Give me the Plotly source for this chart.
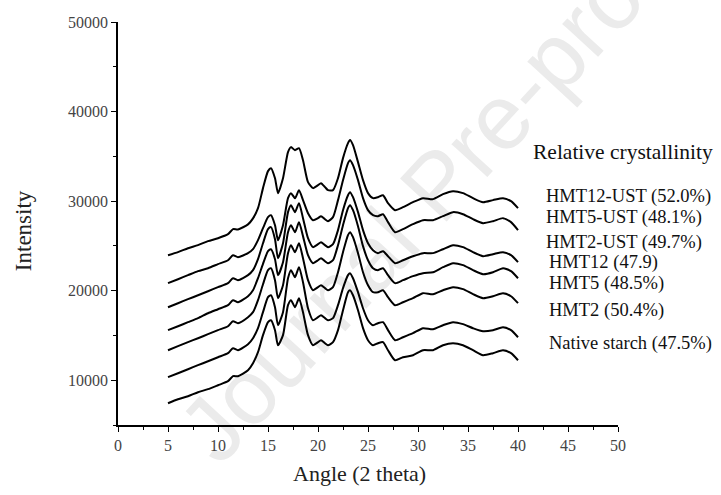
import plotly.graph_objects as go

angle = [5, 6, 7, 8, 9, 10, 11, 11.5, 12, 13, 13.5, 14, 14.5, 15, 15.3, 15.7, 16, 16.5,
         17, 17.3, 17.7, 18.1, 18.5, 19, 19.5, 20, 20.3, 20.7, 21, 21.5, 22, 22.5, 23,
         23.2, 23.5, 24, 24.5, 25, 25.5, 26, 26.5, 27, 27.7, 28.5, 29.5, 30.5, 31.5,
         32.5, 33.5, 34.5, 35.5, 36.5, 37.5, 38.5, 39.3, 40]

hmt12_ust = [23960, 24300, 24740, 25080, 25530, 25860, 26310, 26870, 26840, 27400, 28070,
             29210, 31450, 33350, 33680, 32560, 30890, 32560, 35470, 36030, 35690, 35910,
             34570, 32120, 31450, 31780, 32000, 31560, 31220, 31220, 32560, 34800, 36470,
             36810, 36250, 34350, 32340, 30890, 30330, 30440, 30660, 29770, 28990, 29320,
             29880, 30330, 30220, 30780, 31110, 30890, 30330, 29880, 30110, 30330, 29990, 29210]
hmt5_ust = [20840, 21280, 21730, 22180, 22510, 22960, 23400, 23960, 23740, 24190, 24630,
            25640, 26980, 28210, 28430, 27310, 25640, 27310, 30330, 30890, 30330, 31220,
            30110, 28650, 27870, 28100, 28320, 27980, 27760, 28210, 30110, 32340, 34240,
            34570, 34020, 32340, 30330, 28990, 28430, 28320, 28540, 27650, 26530, 26870,
            27430, 27870, 27870, 28320, 28770, 28540, 27980, 27540, 27760, 28100, 27650, 26760]
hmt2_ust = [18150, 18600, 19050, 19490, 19940, 20390, 20840, 21390, 21170, 21730, 22290,
            23520, 25300, 26870, 27090, 25750, 23630, 25300, 28770, 29550, 28770, 29770,
            28100, 25860, 24860, 25190, 25420, 25080, 24860, 25190, 26760, 28990, 30660,
            31000, 30440, 28770, 26760, 25300, 24520, 24190, 24410, 23850, 23070, 23400,
            23850, 24190, 24190, 24630, 25080, 24860, 24300, 23850, 24070, 24300, 23960, 23180]
hmt12 = [15590, 16030, 16480, 16930, 17480, 17930, 18380, 18940, 18710, 19380, 20050,
         21390, 23000, 24410, 24630, 23510, 21730, 23180, 26530, 27310, 26530, 27650,
         26090, 23960, 23070, 23400, 23630, 23290, 23070, 23400, 25080, 27310, 29210,
         29550, 28990, 27200, 24970, 23400, 22510, 22290, 22510, 21730, 20840, 21170,
         21620, 21950, 22060, 22620, 23070, 22850, 22290, 21840, 22060, 22510, 22180, 21390]
hmt5 = [13350, 13800, 14250, 14690, 15140, 15590, 16030, 16590, 16370, 17040, 17600,
        18940, 20720, 22290, 22510, 21170, 19160, 20610, 24190, 25080, 24300, 25300,
        23630, 21170, 20050, 20390, 20610, 20280, 20050, 20390, 22060, 24300, 26200,
        26530, 25970, 24190, 22060, 20610, 19830, 19830, 20050, 19270, 18380, 18710,
        19160, 19720, 19610, 20050, 20390, 20170, 19610, 19160, 19380, 19720, 19380, 18600]
hmt2 = [10340, 10780, 11230, 11680, 12120, 12570, 13020, 13570, 13350, 14020, 14690,
        15810, 17600, 19270, 19490, 18150, 16140, 17600, 21390, 22290, 21510, 22620,
        20950, 18040, 16700, 17040, 17260, 16930, 16700, 16930, 18380, 20280, 21730,
        21950, 21390, 19830, 18040, 16700, 16140, 16370, 16480, 15590, 14470, 14800,
        15250, 15810, 15700, 16140, 16480, 16260, 15810, 15470, 15590, 15920, 15590, 14800]
native = [7430, 7880, 8210, 8660, 9000, 9440, 9890, 10450, 10450, 11120, 11900,
          13130, 15030, 16480, 16700, 15590, 13910, 15030, 18380, 18940, 18150, 19160,
          17600, 15030, 13910, 14250, 14470, 14130, 13910, 14250, 15590, 17820, 19830,
          20050, 19490, 17820, 15810, 14470, 13910, 14130, 14250, 13350, 12230, 12570,
          12790, 13350, 13350, 13910, 14130, 13910, 13350, 12790, 13020, 13350, 13020, 12230]

series = [native, hmt2, hmt5, hmt12, hmt2_ust, hmt5_ust, hmt12_ust]

legend_title = "Relative crystallinity"
labels = ["HMT12-UST (52.0%)", "HMT5-UST (48.1%)", "HMT2-UST (49.7%)", "HMT12 (47.9)",
          "HMT5 (48.5%)", "HMT2 (50.4%)", "Native starch (47.5%)"]
label_x = [0.852, 0.852, 0.852, 0.857, 0.857, 0.857, 0.857]
label_y = [0.566, 0.514, 0.454, 0.402, 0.350, 0.285, 0.203]

serif = "Liberation Serif, Times New Roman, serif"

fig = go.Figure()
for s in series:
    fig.add_trace(go.Scatter(x=angle, y=s, mode="lines",
                             line=dict(color="black", width=2, shape="spline", smoothing=0.6),
                             showlegend=False, hoverinfo="skip"))

anns = [dict(text=legend_title, x=0.826, y=0.677, xref="paper", yref="paper",
             xanchor="left", yanchor="middle", showarrow=False,
             font=dict(family=serif, size=21.5, color="#111"))]
for t, lx, ly in zip(labels, label_x, label_y):
    anns.append(dict(text=t, x=lx, y=ly, xref="paper", yref="paper",
                     xanchor="left", yanchor="middle", showarrow=False,
                     font=dict(family=serif, size=18.5, color="#111")))
anns.append(dict(text="Intensity", x=-0.19, y=0.481, xref="paper", yref="paper",
                 textangle=-90, showarrow=False, xanchor="center", yanchor="middle",
                 font=dict(family=serif, size=23, color="#222")))
anns.append(dict(text="Angle (2 theta)", x=0.482, y=-0.12, xref="paper", yref="paper",
                 showarrow=False, xanchor="center", yanchor="middle",
                 font=dict(family=serif, size=22, color="#222")))

fig.update_layout(
    width=721, height=495,
    margin=dict(l=118, r=103, t=22, b=70, autoexpand=False),
    paper_bgcolor="white", plot_bgcolor="white",
    annotations=anns,
    shapes=[dict(type="line", xref="paper", yref="paper",
                 x0=0.244, y0=-0.099, x1=1.164, y1=1.141,
                 line=dict(color="rgba(0,0,0,0)", width=1), layer="below",
                 label=dict(text="Journal Pre-proof", textposition="middle",
                            font=dict(family="Liberation Sans, Arial, sans-serif", size=92,
                                      color="#ebebeb")))],
    xaxis=dict(range=[0, 50], dtick=5, tick0=0, showline=True, linecolor="black", linewidth=1.5,
               ticks="outside", ticklen=5, tickwidth=1.3, tickcolor="black", automargin=False,
               minor=dict(dtick=2.5, ticklen=3, tickwidth=1, tickcolor="black", ticks="outside"),
               showgrid=False, zeroline=False,
               tickfont=dict(family=serif, size=16, color="#444")),
    yaxis=dict(range=[5000, 50000], tickvals=[10000, 20000, 30000, 40000, 50000],
               tickformat="d", automargin=False,
               showline=True, linecolor="black", linewidth=1.5,
               ticks="outside", ticklen=5, tickwidth=1.3, tickcolor="black",
               minor=dict(tickvals=[5000, 15000, 25000, 35000, 45000], ticklen=3, tickwidth=1,
                          tickcolor="black", ticks="outside"),
               showgrid=False, zeroline=False,
               tickfont=dict(family=serif, size=16, color="#444")),
)

# remove the default 8px page margin so the 721x495 figure fills the window exactly
fig.write_html("out.html", config={"displayModeBar": False},
               post_script="document.body.style.margin='0';document.body.style.overflow='hidden';")
